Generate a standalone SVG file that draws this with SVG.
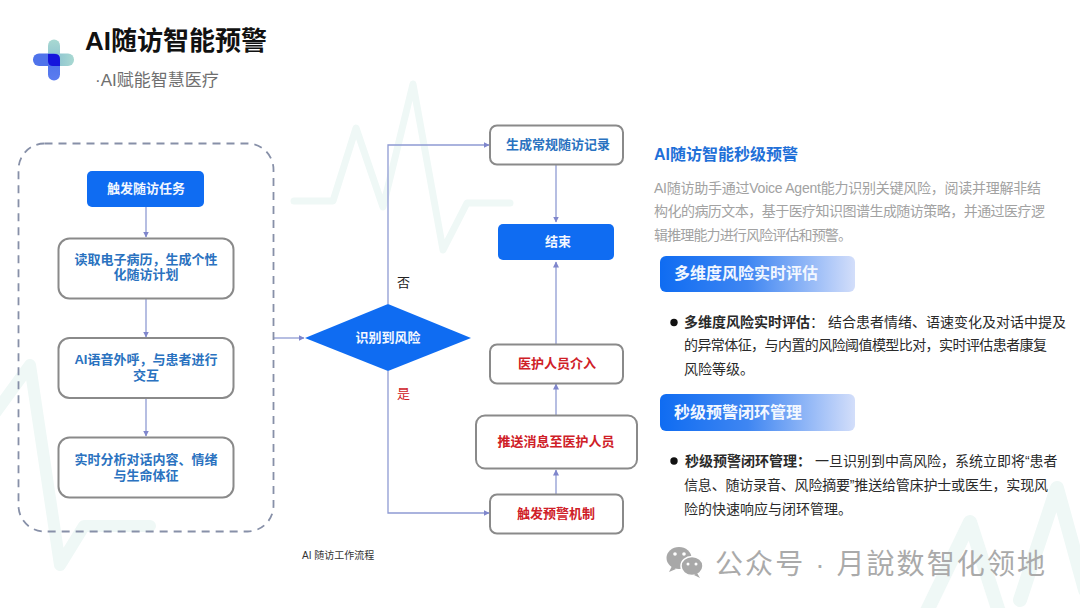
<svg xmlns="http://www.w3.org/2000/svg" width="1080" height="608" viewBox="0 0 1080 608">
<style>
text{font-family:"Liberation Sans","Noto Sans CJK SC",sans-serif}
.box{fill:#fff;stroke:#8a8a8a;stroke-width:2}
.blue{fill:#0f6cf2}
.nt{font-size:13px;font-weight:700;text-anchor:middle}
.b{fill:#2a72c0}.r{fill:#cf2027}.w{fill:#f2f7ff}
.conn{fill:none;stroke:#8f9bd3;stroke-width:1.3;marker-end:url(#a)}
.bg{fill:none;stroke:#eff8f6;stroke-linejoin:round;stroke-linecap:round}
.d{font-size:14px;fill:#a2a2a2}
.k{font-size:14px;fill:#2a2a2a}
.h{font-size:16px;font-weight:700;fill:#f2f7ff}
</style>
<defs>
<marker id="a" markerWidth="7" markerHeight="7" refX="5.5" refY="3" orient="auto" markerUnits="userSpaceOnUse"><path d="M0 0L6 3L0 6z" fill="#7f86cc"/></marker>
<linearGradient id="g"><stop offset="0" stop-color="#0f6cf2"/><stop offset=".45" stop-color="#3f86f2"/><stop offset="1" stop-color="#d3defa"/></linearGradient>
<linearGradient id="v" x1="0" y1="0" x2="0" y2="1"><stop offset="0" stop-color="#a9d9d2"/><stop offset=".45" stop-color="#8fc5d0"/><stop offset=".55" stop-color="#4f73ea"/><stop offset="1" stop-color="#5b7cf0"/></linearGradient>
<linearGradient id="o"><stop offset="0" stop-color="#4f73ea"/><stop offset=".5" stop-color="#4f73ea"/><stop offset=".6" stop-color="#8fc5d0"/><stop offset="1" stop-color="#a9d9d2"/></linearGradient>
</defs>
<rect width="1080" height="608" fill="#fff"/>
<g id="background">
<polyline class="bg" stroke-width="7" points="294,201 333,201 356,128 383,207 413,84 443,250 467,203 510,203"/>
<polyline class="bg" stroke-width="12" points="-10,420 30,365 60,565 84,526 150,526"/>
<polyline class="bg" stroke-width="14" points="925,615 970,522 1000,615"/>
<polyline class="bg" stroke-width="14" points="1020,600 1057,488 1085,590"/>
</g>
<g id="logo">
<rect x="48" y="39.500" width="12" height="41" rx="6" fill="url(#v)"/>
<rect x="33" y="53.500" width="41" height="12.500" rx="6" fill="url(#o)"/>
<path d="M48 54H55Q60 54 60 59V66H53Q48 66 48 61z" fill="#1414dc"/>
</g>
<g id="title">
<text x="85" y="50" font-size="26" font-weight="700" fill="#111">AI随访智能预警</text>
<text x="95" y="86" font-size="17" fill="#6f6f6f">·AI赋能智慧医疗</text>
</g>
<g id="connectors">
<path class="conn" d="M146 207V237"/>
<path class="conn" d="M146 298V337"/>
<path class="conn" d="M146 398V436"/>
<path class="conn" d="M273 338H304"/>
<path class="conn" d="M388 304V145H489"/>
<path class="conn" d="M388 371V513H489"/>
<path class="conn" d="M556 164V222"/>
<path class="conn" d="M556 344V262"/>
<path class="conn" d="M556 415V384"/>
<path class="conn" d="M556 494V470"/>
</g>
<g id="group-box"><rect x="18.500" y="143.500" width="255" height="388" rx="26" fill="none" stroke="#8790a8" stroke-width="1.800" stroke-dasharray="8 6"/></g>
<g id="n1"><rect class="blue" x="87" y="171" width="117" height="36" rx="5"/><text class="nt w" x="146" y="193">触发随访任务</text></g>
<g id="n2"><rect class="box" x="58.500" y="238.500" width="175" height="60" rx="11"/><text class="nt b" x="146" y="264">读取电子病历，生成个性</text><text class="nt b" x="146" y="279">化随访计划</text></g>
<g id="n3"><rect class="box" x="58.500" y="338" width="175" height="60" rx="11"/><text class="nt b" x="146" y="364">AI语音外呼，与患者进行</text><text class="nt b" x="146" y="380">交互</text></g>
<g id="n4"><rect class="box" x="58.500" y="437.500" width="175" height="60" rx="11"/><text class="nt b" x="146" y="464">实时分析对话内容、情绪</text><text class="nt b" x="146" y="480">与生命体征</text></g>
<g id="n5"><path class="blue" d="M305 338L388 304L471 338L388 371z"/><text class="nt w" x="388" y="342">识别到风险</text></g>
<g id="n6"><rect class="box" x="490" y="125.500" width="133" height="39" rx="7"/><text class="nt b" x="558" y="149">生成常规随访记录</text></g>
<g id="n7"><rect class="blue" x="498" y="224" width="116" height="36" rx="5"/><text class="nt w" x="558" y="246">结束</text></g>
<g id="n8"><rect class="box" x="490" y="344.500" width="133" height="39" rx="7"/><text class="nt r" x="557" y="368">医护人员介入</text></g>
<g id="n9"><rect class="box" x="476" y="415.500" width="161" height="53" rx="9"/><text class="nt r" x="556" y="446">推送消息至医护人员</text></g>
<g id="n10"><rect class="box" x="490" y="494.500" width="133" height="39" rx="7"/><text class="nt r" x="556" y="518">触发预警机制</text></g>
<g id="edge-labels">
<text x="397" y="287" font-size="13" fill="#222">否</text>
<text x="397" y="398" font-size="13" fill="#cf2027">是</text>
<text x="302" y="559" font-size="10" fill="#333">AI 随访工作流程</text>
</g>
<g id="panel">
<text x="654" y="160" font-size="16" font-weight="700" fill="#1f70d8">AI随访智能秒级预警</text>
<text class="d" x="654" y="193" textLength="387">AI随访助手通过Voice Agent能力识别关键风险，阅读并理解非结</text>
<text class="d" x="654" y="216" textLength="391">构化的病历文本，基于医疗知识图谱生成随访策略，并通过医疗逻</text>
<text class="d" x="654" y="240" textLength="198">辑推理能力进行风险评估和预警。</text>
</g>
<g id="section1">
<rect x="660" y="256" width="195" height="36" rx="6" fill="url(#g)"/>
<text class="h" x="674" y="279">多维度风险实时评估</text>
<circle cx="674" cy="322.500" r="3.700" fill="#111"/>
<text class="k" x="684" y="327"><tspan font-weight="700">多维度风险实时评估</tspan>：  结合患者情绪、语速变化及对话中提及</text>
<text class="k" x="684" y="350" textLength="363">的异常体征，与内置的风险阈值模型比对，实时评估患者康复</text>
<text class="k" x="684" y="374">风险等级。</text>
</g>
<g id="section2">
<rect x="660" y="394" width="195" height="37" rx="6" fill="url(#g)"/>
<text class="h" x="674" y="418">秒级预警闭环管理</text>
<circle cx="674" cy="461" r="3.700" fill="#111"/>
<text class="k" x="685" y="466"><tspan font-weight="700">秒级预警闭环管理：</tspan>  一旦识别到中高风险，系统立即将“患者</text>
<text class="k" x="684" y="490" textLength="364">信息、随访录音、风险摘要”推送给管床护士或医生，实现风</text>
<text class="k" x="684" y="514">险的快速响应与闭环管理。</text>
</g>
<g id="watermark">
<ellipse cx="679" cy="558" rx="12.500" ry="11" fill="#a8a8a8"/>
<path d="M672 566l-3 6 7-3z" fill="#a8a8a8"/>
<ellipse cx="692" cy="566" rx="11" ry="9.500" fill="#a8a8a8" stroke="#fff" stroke-width="1.500"/>
<path d="M697 573l3 5-6-3z" fill="#a8a8a8"/>
<circle cx="675" cy="554" r="1.800" fill="#fff"/><circle cx="684" cy="554" r="1.800" fill="#fff"/>
<circle cx="688" cy="564" r="1.500" fill="#fff"/><circle cx="696" cy="564" r="1.500" fill="#fff"/>
<text x="715" y="574" font-size="28" fill="#aaa" textLength="330">公众号 · 月說数智化领地</text>
</g>
</svg>
